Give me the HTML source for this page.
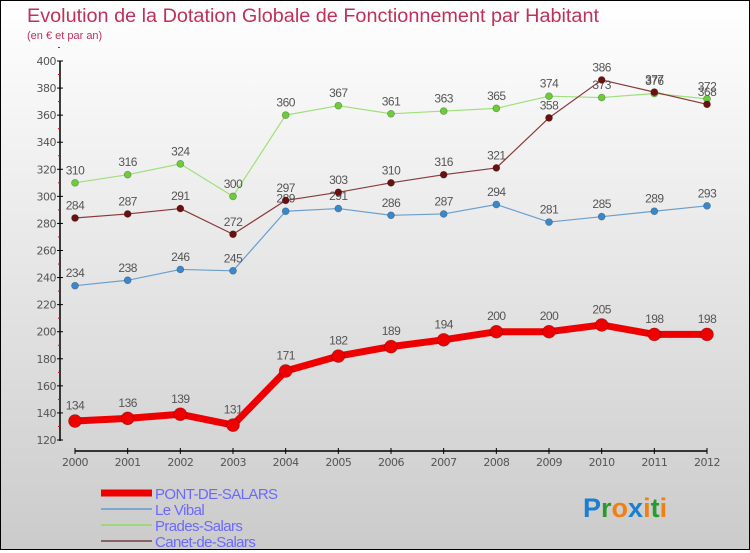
<!DOCTYPE html>
<html><head><meta charset="utf-8"><style>
html,body{margin:0;padding:0}
body{width:750px;height:550px;overflow:hidden;font-family:"DejaVu Sans","Liberation Sans",sans-serif}
#wrap{position:relative;width:748px;height:548px;border:1px solid #000;background:linear-gradient(#fff 0%,#f0f0f0 30%,#cbcbcb 100%)}
</style></head><body>
<div id="wrap">
<svg id="chart" width="748" height="548" xmlns="http://www.w3.org/2000/svg">
<text x="26" y="21" font-size="19" fill="#c0305a" font-family="Liberation Sans,sans-serif" textLength="572" lengthAdjust="spacingAndGlyphs">Evolution de la Dotation Globale de Fonctionnement par Habitant</text>
<text x="26" y="38" font-size="11" fill="#c0305a" font-family="Liberation Sans,sans-serif">(en € et par an)</text>
<g id="axes"></g><g id="series"></g><g id="legend"></g>
<text x="582" y="516" font-size="27" font-family="Liberation Sans,sans-serif" font-weight="bold"><tspan fill="#1a7fd0">P</tspan><tspan fill="#2a9a30">r</tspan><tspan fill="#f08010">o</tspan><tspan fill="#1a7fd0">x</tspan><tspan fill="#f08010">i</tspan><tspan fill="#2a9a30">t</tspan><tspan fill="#f08010">i</tspan></text>
</svg></div>
<script>
const years=["2000","2001","2002","2003","2004","2005","2006","2007","2008","2009","2010","2011","2012"];
const yTicks=[120,140,160,180,200,220,240,260,280,300,320,340,360,380,400];
const pont=[134,136,139,131,171,182,189,194,200,200,205,198,198];
const vibal=[234,238,246,245,289,291,286,287,294,281,285,289,293];
const prades=[310,316,324,300,360,367,361,363,365,374,373,376,372];
const canet=[284,287,291,272,297,303,310,316,321,358,386,377,368];
const NS="http://www.w3.org/2000/svg";
function X(i){return 74+i*(632/12);}
function Y(v){return 439-(v-120)*(379/280);}
function mk(tag,attrs,parent,txt){const e=document.createElementNS(NS,tag);for(const k in attrs)e.setAttribute(k,attrs[k]);if(txt!==undefined)e.textContent=txt;parent.appendChild(e);return e;}
const axes=document.getElementById('axes');
let e=mk('line',{x1:59,y1:Y(400),x2:59,y2:Y(120)+1,stroke:'#000','stroke-width':1.5},axes);


yTicks.forEach(v=>{
 mk('line',{x1:56,x2:62,y1:Y(v),y2:Y(v),stroke:'#000'},axes);
 mk('line',{x1:57,x2:59,y1:Y(v+10),y2:Y(v+10),stroke:'#e00'},axes);
 const t=mk('text',{x:55,y:Y(v)+4,'font-size':11,fill:'#555','text-anchor':'end','letter-spacing':'-0.5'},axes,String(v));
 
 
});
e=mk('line',{x1:X(0),x2:X(12),y1:450,y2:450,stroke:'#000','stroke-width':1.5},axes);


years.forEach((y,i)=>{
 mk('line',{x1:X(i),x2:X(i),y1:447,y2:453,stroke:'#000'},axes);
 const t=mk('text',{x:X(i),y:465,'font-size':11,fill:'#555','text-anchor':'middle','letter-spacing':'-0.5'},axes,y);
 
 
});
const ser=document.getElementById('series');
function draw(data,name,color,dot,w,r){
 const g=mk('g',{},ser);
 
 
 const l=mk('polyline',{points:data.map((v,i)=>X(i)+','+Y(v)).join(' '),fill:'none',stroke:color,'stroke-width':w,'stroke-linejoin':'round'},g);
 
 
 data.forEach((v,i)=>{
  const c=mk('circle',{cx:X(i),cy:Y(v),r:r,fill:dot,stroke:'rgba(0,0,0,0.3)','stroke-width':0.7},g);
  
  
  const t=mk('text',{x:X(i),y:Y(v)-(r+5),'font-size':12,fill:'#555','text-anchor':'middle','letter-spacing':'-0.5','font-family':'Liberation Sans,sans-serif'},g,String(v));
  
  
 });
}
draw(vibal,'le-vibal','#6a9fd0','#3a88cc',1.2,3.5);
draw(prades,'prades-salars','#9ee07a','#6ccc3a',1.2,3.5);
draw(canet,'canet-de-salars','#8a3a3a','#6a1010',1.2,3.5);
draw(pont,'pont-de-salars','#ee0000','#ee0000',7,6.5);
const leg=document.getElementById('legend');
[['PONT-DE-SALARS','#ee0000',7],['Le Vibal','#7aa8cf',2],['Prades-Salars','#9ed87a',2],['Canet-de-Salars','#8a6060',2]].forEach((d,i)=>{
 const y=492+i*16;
 const g=mk('g',{},leg);
 
 
 mk('line',{x1:100,x2:151,y1:y,y2:y,stroke:d[1],'stroke-width':d[2]},g);
 mk('text',{x:154,y:y+6,'font-size':15,fill:'#6a6aff','letter-spacing':'-0.6','font-family':'Liberation Sans,sans-serif'},g,d[0]);
});
</script>
</body></html>
